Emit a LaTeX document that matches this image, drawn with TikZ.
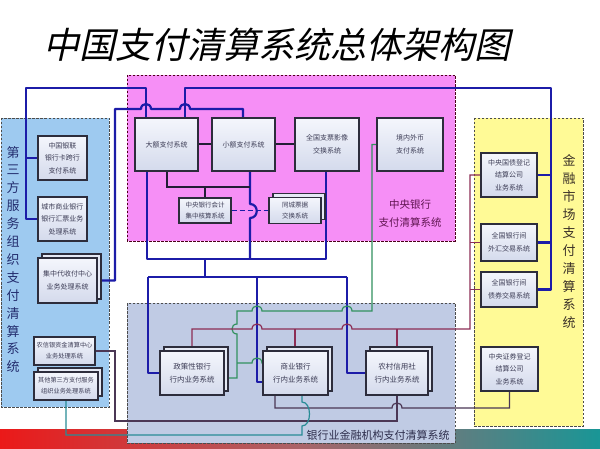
\documentclass[tikz,border=0pt]{standalone}
\usepackage{fontspec}
\setmainfont{Noto Sans CJK SC}
\newfontfamily\titlefont[FakeSlant=0.22]{Noto Sans CJK SC}
\usetikzlibrary{calc}
\definecolor{pinkreg}{RGB}{246,143,246}
\definecolor{bluereg}{RGB}{158,202,240}
\definecolor{yelreg}{RGB}{255,250,150}
\definecolor{bankreg}{RGB}{192,203,228}
\definecolor{navyln}{RGB}{28,28,168}
\definecolor{blkln}{RGB}{35,30,55}
\definecolor{redln}{RGB}{140,45,85}
\definecolor{grnln}{RGB}{50,145,95}
\definecolor{tealln}{RGB}{40,140,150}
\definecolor{dpln}{RGB}{75,55,85}
\definecolor{boxhi}{RGB}{244,246,252}
\definecolor{boxlo}{RGB}{212,218,236}
\definecolor{boxln}{RGB}{45,45,60}
\definecolor{boxtx}{RGB}{60,60,85}
\definecolor{bandL}{RGB}{235,25,25}
\definecolor{bandM}{RGB}{170,100,105}
\definecolor{bandR}{RGB}{25,150,150}
\pgfdeclarelayer{regions}
\pgfdeclarelayer{lines}
\pgfsetlayers{regions,lines,main}
\tikzset{
  region/.style={draw=black!70, dash pattern=on 2.5pt off 1.5pt, line width=0.9pt},
  box/.style 2 args={draw=boxln, line width=1.1pt, top color=boxhi, bottom color=boxlo,
    minimum width=#1pt, minimum height=#2pt, inner sep=0pt, align=center, text=boxtx,
    font=\fontsize{7}{12.5}\selectfont},
  backbox/.style={draw=boxln, line width=1.1pt, fill=boxlo!60!white},
  bl/.style={draw=navyln, line width=2.2pt, line join=round},
  bk/.style={draw=blkln, line width=2pt},
  dsh/.style={draw=navyln, line width=1.4pt, dash pattern=on 5pt off 3pt},
  gr/.style={draw=grnln, line width=1.2pt},
  rd/.style={draw=redln, line width=1.2pt},
  dp/.style={draw=dpln, line width=1.2pt},
  tl/.style={draw=tealln, line width=1.2pt},
}
\begin{document}
\begin{tikzpicture}[x=1pt,y=-1pt]
\useasboundingbox (0,0) rectangle (600,449);
\begin{pgfonlayer}{regions}
\fill[white] (0,0) rectangle (600,449);
\shade[left color=bandL, right color=bandR, middle color=bandM] (0,429) rectangle (600,449);
\filldraw[region, fill=pinkreg, draw=black!60!purple] (127,75) rectangle (455,241);
\filldraw[region, fill=bluereg] (1,118) rectangle (109,407);
\filldraw[region, fill=yelreg] (474,118) rectangle (583,426);
\filldraw[region, fill=bankreg] (127,303) rectangle (455,443);
\end{pgfonlayer}

% title
\node[font=\titlefont\fontsize{36}{40}\selectfont] (title) at (277,45) {中国支付清算系统总体架构图};

% central bank boxes
\node[box={63}{53}] (dae) at (166.5,144.5) {大额支付系统};
\node[box={63}{53}] (xiao) at (243.5,144.5) {小额支付系统};
\node[box={64}{53}] (zp) at (327,144.5) {全国支票影像\\交换系统};
\node[box={66}{53}] (wb) at (410,144.5) {境内外币\\支付系统};
\node[box={52}{25}, font=\fontsize{6.5}{11}\selectfont] (kj) at (205,210.5) {中央银行会计\\集中核算系统};
\draw[backbox] (273,193.5) rectangle (325,219.5);
\node[box={52}{26}, font=\fontsize{6.5}{11}\selectfont] (tc) at (295,210.5) {同城票据\\交换系统};

% third-party boxes
\node[box={49}{44}] (yinlian) at (62.5,158) {中国银联\\银行卡跨行\\支付系统};
\node[box={49}{44}] (chengshang) at (62.5,219) {城市商业银行\\银行汇票业务\\处理系统};
\draw[backbox] (42,254) rectangle (101,299);
\node[box={59}{45}] (jizhong) at (67.5,280.5) {集中代收付中心\\业务处理系统};
\node[box={61}{28}, font=\fontsize{6.2}{11}\selectfont] (nxy) at (64.5,351) {农信银资金清算中心\\业务处理系统};
\draw[backbox] (38,368) rectangle (102,396);
\node[box={64}{28}, font=\fontsize{6.2}{11}\selectfont] (qita) at (66,386) {其他第三方支付服务\\组织业务处理系统};

% financial market boxes
\node[box={56}{44}] (guozhai) at (509,175) {中央国债登记\\结算公司\\业务系统};
\node[box={56}{37}] (waihui) at (509,242.5) {全国银行间\\外汇交易系统};
\node[box={56}{35}] (zhaiquan) at (509,289.5) {全国银行间\\债券交易系统};
\node[box={57}{44}] (zhengquan) at (509.5,369) {中央证券登记\\结算公司\\业务系统};

% banking boxes
\draw[backbox] (164,347) rectangle (228,391);
\node[box={64}{44}, font=\fontsize{7.5}{12.5}\selectfont] (zhengce) at (192,373) {政策性银行\\行内业务系统};
\draw[backbox] (267,347) rectangle (332,391);
\node[box={65}{44}, font=\fontsize{7.5}{12.5}\selectfont] (shangye) at (295.5,373) {商业银行\\行内业务系统};
\draw[backbox] (370,347) rectangle (432,391);
\node[box={62}{44}, font=\fontsize{7.5}{12.5}\selectfont] (nongcun) at (397,373) {农村信用社\\行内业务系统};

% region labels
\node[font=\fontsize{10.5}{18}\selectfont, text={rgb,255:red,95;green,20;blue,80}, align=center] (cblabel) at (410,214) {中央银行\\支付清算系统};
\node[font=\fontsize{11}{13}\selectfont, text={rgb,255:red,45;green,45;blue,75}] (banklabel) at (378,435) {银行业金融机构支付清算系统};
\node[font=\fontsize{13}{17.9}\selectfont, text={rgb,255:red,35;green,45;blue,110}, align=center] (tplabel) at (13,259.5) {第\\三\\方\\服\\务\\组\\织\\支\\付\\清\\算\\系\\统};
\node[font=\fontsize{13}{18}\selectfont, text={rgb,255:red,60;green,50;blue,40}, align=center] (fmlabel) at (569,241) {金\\融\\市\\场\\支\\付\\清\\算\\系\\统};

\begin{pgfonlayer}{lines}
% blue upper
\draw[bl] (chengshang.west) -- (26,0 |- chengshang.west) -- (26,88) -- (146,88) -- (dae.north -| 146,0);
\draw[bl] (yinlian.west) -- (26,0 |- yinlian.west);
\draw[bl] (dae.north -| 185,0) -- (185,88) -- (551,88) -- (551,0 |- zhaiquan.east) -- (zhaiquan.east);
\draw[bl] (guozhai.east) -- (551,0 |- guozhai.east);
\draw[bl] (waihui.east) -- (551,0 |- waihui.east);
\draw[bl] (jizhong.east) -- (115,0 |- jizhong.east) -- (115,109) -- (141,109)
  .. controls (141,102.3) and (151,102.3) .. (151,109) -- (180,109)
  .. controls (180,102.3) and (190,102.3) .. (190,109) -- (243,109) -- (xiao.north -| 243,0);
% blue lower
\draw[bl] (dae.south -| 147,0) -- (147,259) -- (326,259) -- (zp.south -| 326,0);
\draw[bl] (xiao.south -| 250,0) -- (250,204) .. controls (259,204) and (259,218) .. (250,218) -- (250,259);
\draw[bl] (205,259) -- (205,277);
\draw[bl] (148,277) -- (347,277);
\draw[bl] (148,277) -- (148,0 |- zhengce.west) -- (zhengce.west);
\draw[bl] (257,277) -- (257,382) -- (shangye.west |- 0,382);
\draw[bl] (347,277) -- (347,0 |- nongcun.west) -- (nongcun.west);
% black
\draw[bk] (dae.east) -- (xiao.west);
\draw[bk] (xiao.east) -- (zp.west);
\draw[bk] (dae.south -| 167,0) -- (167,187) -- (250,187);
\draw[bk] (205,187) -- (kj.north);
\draw[dsh] (kj.east) -- (tc.west);
% green
\draw[gr] (wb.west) -- (372,0 |- wb.west) -- (372,311) -- (352,311)
  .. controls (352,304.3) and (342,304.3) .. (342,311) -- (262,311)
  .. controls (262,304.3) and (252,304.3) .. (252,311) -- (237,311) -- (237,324)
  .. controls (230.3,324) and (230.3,334) .. (237,334) -- (237,378) -- (zhengce.east |- 0,378);
\draw[gr] (237,363) -- (252,363) .. controls (252,356.3) and (262,356.3) .. (262,363) -- (shangye.west |- 0,363);
% red
\draw[rd] (192,347) -- (192,329) -- (252,329) .. controls (252,322.3) and (262,322.3) .. (262,329)
  -- (342,329) .. controls (342,322.3) and (352,322.3) .. (352,329) -- (470,329)
  -- (470,0 |- guozhai.west) -- (guozhai.west);
\draw[rd] (295,329) -- (295,347);
\draw[rd] (397,329) -- (397,347);
\draw[rd] (waihui.west) -- (470,0 |- waihui.west);
\draw[rd] (zhaiquan.west) -- (470,0 |- zhaiquan.west);
% bottom
\draw[dp] (shangye.south -| 275,0) -- (275,408) -- (392,408) .. controls (392,401.3) and (402,401.3) .. (402,408)
  -- (509.5,408) -- (zhengquan.south);
\draw[dp] (nxy.east) -- (115,0 |- nxy.east) -- (115,421) -- (397,421) -- (nongcun.south);
\draw[tl] (qita.south) -- (66,435) -- (302,435) -- (302,426) .. controls (312,426) and (312,402) .. (302,402) -- (shangye.south -| 302,0);
\end{pgfonlayer}
\end{tikzpicture}
\end{document}
